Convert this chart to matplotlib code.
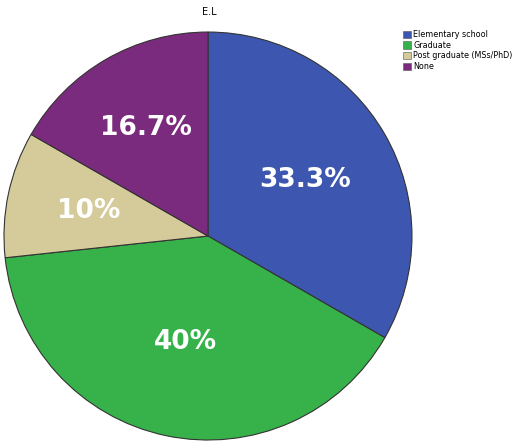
import matplotlib
matplotlib.use("Agg")
import matplotlib.pyplot as plt
from matplotlib.patches import Patch
import numpy as np

categories = ["Elementary school", "Graduate", "Post graduate (MSs/PhD)", "None"]
shares = [33.3, 40.0, 10.0, 16.7]
pct_labels = ["33.3%", "40%", "10%", "16.7%"]
colors = ["#3d57b0", "#37b24a", "#d5ca9a", "#7b2b7d"]

fig = plt.figure(figsize=(5.18, 4.42), dpi=100)
# pie axes: centre around (208, 236) px, radius ~204 px
ax = fig.add_axes([0.0077, 0.0045, 0.7876, 0.923])
wedges, _ = ax.pie(shares, colors=colors, startangle=90, counterclock=False,
                   radius=1.0, wedgeprops=dict(edgecolor="#333333", linewidth=0.8))
ax.set_xlim(-1.0, 1.0)
ax.set_ylim(-1.0, 1.0)
ax.set_aspect("equal")
ax.axis("off")

# percentage labels, a bit off the default distance like the original
dist = [0.55, 0.53, 0.60, 0.61]
for w, lab, d in zip(wedges, pct_labels, dist):
    mid = np.deg2rad((w.theta1 + w.theta2) / 2)
    ax.text(d * np.cos(mid), d * np.sin(mid), lab, ha="center", va="center",
            color="white", fontsize=19, fontweight="bold")

fig.text(0.405, 0.972, "E.L", ha="center", va="center", fontsize=7)

handles = [Patch(facecolor=c, edgecolor="#555555", linewidth=0.4) for c in colors]
fig.legend(handles, categories, loc="upper left", bbox_to_anchor=(0.778, 0.932),
           frameon=False, fontsize=5.8, handlelength=1.0, handleheight=1.0,
           handletextpad=0.3, labelspacing=0.2, borderpad=0.0, borderaxespad=0.0)

fig.savefig("out.png", dpi=100)
